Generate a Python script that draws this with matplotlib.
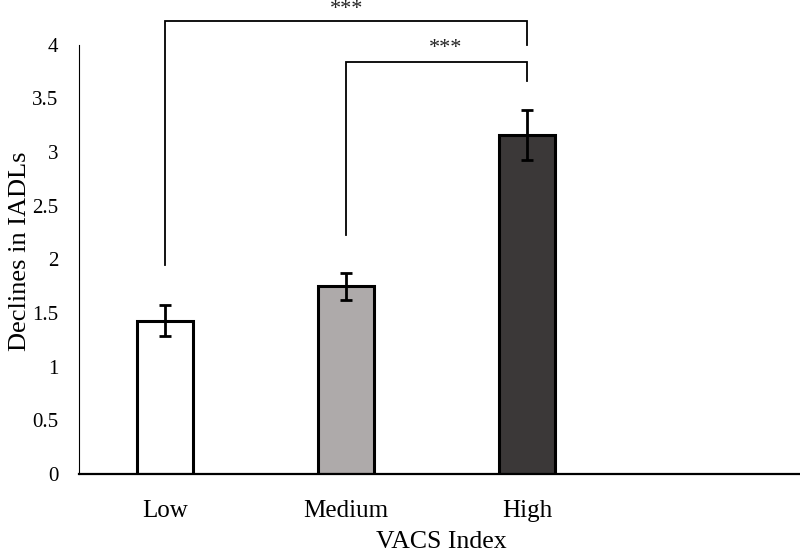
import matplotlib.pyplot as plt

categories = ['Low', 'Medium', 'High']
means = [1.43, 1.75, 3.16]
errors = [0.145, 0.125, 0.23]
bar_colors = ['#ffffff', '#aeaaaa', '#3b3838']

# significance brackets: (left bar, right bar, bracket height, left leg end, right leg end, label x, label y)
brackets = [
    (0, 2, 4.22, 1.95, 4.0, 1.0, 4.33),
    (1, 2, 3.84, 2.23, 3.66, 1.55, 3.97),
]

plt.rcParams['font.family'] = ['Liberation Serif', 'DejaVu Serif']

fig = plt.figure(figsize=(8, 5.53), dpi=100)
ax = fig.add_axes([0.099, 0.143, 0.905, 0.776])

x = list(range(len(categories)))
ax.bar(x, means, width=0.31, color=bar_colors, edgecolor='black', linewidth=2.2, zorder=2)
ax.errorbar(x, means, yerr=errors, fmt='none', ecolor='black', elinewidth=2.0,
            capsize=4, capthick=2.0, zorder=3)

for i0, i1, h, l0, l1, tx, ty in brackets:
    ax.plot([x[i0], x[i0], x[i1], x[i1]], [l0, h, h, l1], color='black', lw=1.3,
            clip_on=False, solid_joinstyle='miter')
    ax.text(tx, ty, '***', ha='center', va='center', fontsize=16, color='#222222',
            clip_on=False)

ax.set_xlim(-0.475, 3.525)
ax.set_ylim(0, 4)
ax.set_xticks(x)
ax.set_xticklabels(categories, fontsize=18)
ax.set_yticks([0, 0.5, 1, 1.5, 2, 2.5, 3, 3.5, 4])
ax.set_yticklabels(['0', '0.5', '1', '1.5', '2', '2.5', '3', '3.5', '4'], fontsize=15)
ax.tick_params(axis='x', length=0, pad=19)
ax.tick_params(axis='y', length=0, pad=15)
ax.set_xlabel('VACS Index', fontsize=18.5, labelpad=6)
ax.set_ylabel('Declines in IADLs', fontsize=19)
ax.yaxis.set_label_coords(-0.066, 0.52)

for s in ['top', 'right']:
    ax.spines[s].set_visible(False)
ax.spines['left'].set_linewidth(0.8)
ax.spines['bottom'].set_linewidth(1.6)

fig.savefig('out.png', dpi=100)
